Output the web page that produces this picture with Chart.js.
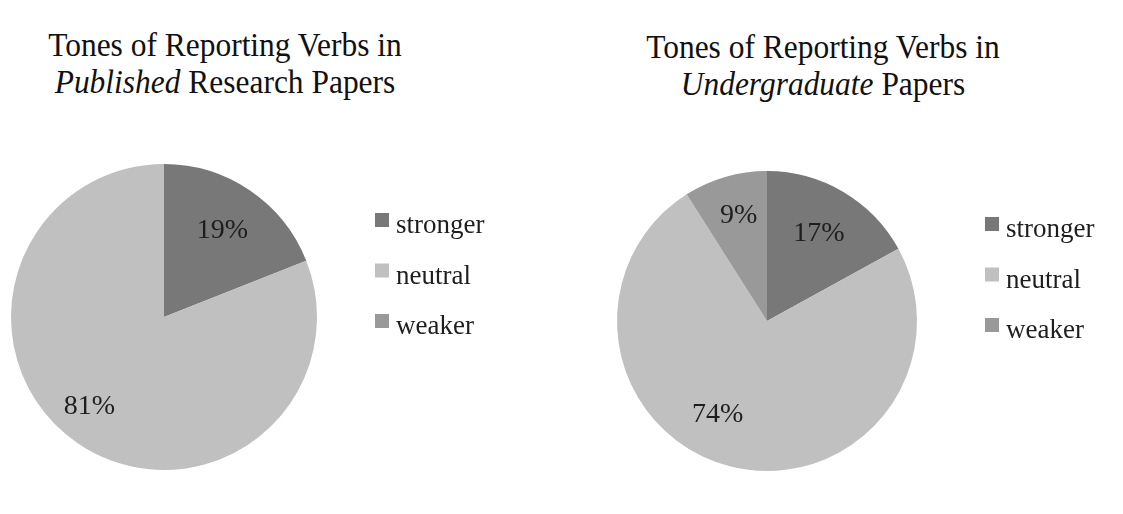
<!DOCTYPE html>
<html>
<head>
<meta charset="utf-8">
<script src="https://cdn.jsdelivr.net/npm/chart.js@4.4.1/dist/chart.umd.min.js"></script>
<style>
  html, body { margin: 0; padding: 0; background: #fff; }
  body { width: 1123px; height: 514px; position: relative; overflow: hidden;
         font-family: 'Liberation Serif', 'Times New Roman', serif; }
  .title { position: absolute; width: 420px; font-size: 34px; line-height: 37px; color: #111;
           text-align: center; white-space: nowrap; transform: scaleX(0.925); transform-origin: 50% 0; }
  .box { position: absolute; top: 140px; height: 374px; }
</style>
</head>
<body>
<div class="title" style="left:15px; top:26px;">Tones of Reporting Verbs in<br><i>Published</i> Research Papers</div>
<div class="title" style="left:613px; top:28px;">Tones of Reporting Verbs in<br><i>Undergraduate</i> Papers</div>
<div class="box" style="left:0; width:560px;"><canvas id="publishedChart" width="560" height="374"></canvas></div>
<div class="box" style="left:560px; width:563px;"><canvas id="undergradChart" width="563" height="374"></canvas></div>
<script>
const tones = ['stronger', 'neutral', 'weaker'];
const toneColors = ['#787878', '#c0c0c0', '#999999'];
const publishedPct = [19, 81, 0];
const undergradPct = [17, 74, 9];

// percent text on each slice, along the slice bisector (plus a small nudge)
const pctLabels = {
    id: 'pctLabels',
    afterDatasetsDraw(chart, args, opts) {
        const ctx = chart.ctx;
        const values = chart.data.datasets[0].data;
        ctx.save();
        ctx.font = opts.font;
        ctx.fillStyle = opts.color;
        ctx.textAlign = 'center';
        ctx.textBaseline = 'middle';
        chart.getDatasetMeta(0).data.forEach((arc, i) => {
            if (!values[i]) return;
            const p = arc.getProps(['x', 'y', 'startAngle', 'endAngle', 'outerRadius'], true);
            const mid = (p.startAngle + p.endAngle) / 2;
            const r = p.outerRadius * opts.dist;
            const n = opts.nudge[i] || [0, 0];
            ctx.fillText(values[i] + '%', p.x + Math.cos(mid) * r + n[0], p.y + Math.sin(mid) * r + n[1]);
        });
        ctx.restore();
    }
};

// Excel-style legend to the right of the pie
const sideLegend = {
    id: 'sideLegend',
    afterDraw(chart, args, opts) {
        const ctx = chart.ctx;
        const colors = chart.data.datasets[0].backgroundColor;
        ctx.save();
        ctx.font = opts.font;
        ctx.textAlign = 'left';
        ctx.textBaseline = 'alphabetic';
        chart.data.labels.forEach((label, i) => {
            const top = opts.top + i * opts.spacing;
            ctx.fillStyle = colors[i];
            ctx.fillRect(opts.left, top, opts.box, opts.box);
            ctx.fillStyle = opts.color;
            ctx.fillText(label, opts.left + opts.box + opts.gap, top + opts.baseline);
        });
        ctx.restore();
    }
};

function makePie(id, values, padding, legendPos, nudge) {
    return new Chart(document.getElementById(id), {
        type: 'pie',
        data: {
            labels: tones,
            datasets: [{
                data: values,
                backgroundColor: toneColors,
                borderWidth: 0
            }]
        },
        options: {
            responsive: false,
            animation: false,
            layout: {padding: padding},
            plugins: {
                legend: {display: false},
                tooltip: {enabled: false},
                pctLabels: {font: '28px "Liberation Serif", serif', color: '#1e1e1e', dist: 0.68, nudge: nudge},
                sideLegend: {
                    font: '27px "Liberation Serif", serif', color: '#1e1e1e',
                    left: legendPos.left, top: legendPos.top, spacing: 50.5,
                    box: 14, gap: 7, baseline: 20
                }
            }
        },
        plugins: [pctLabels, sideLegend]
    });
}

makePie('publishedChart', publishedPct, {left: 11, top: 24, right: 243, bottom: 44},
    {left: 375, top: 73}, [[0, 0], [-16, 4], [0, 0]]);
makePie('undergradChart', undergradPct, {left: 57, top: 31, right: 206, bottom: 43},
    {left: 425, top: 77}, [[0, 0], [-24, -5], [0, -7]]);
</script>
</body>
</html>
